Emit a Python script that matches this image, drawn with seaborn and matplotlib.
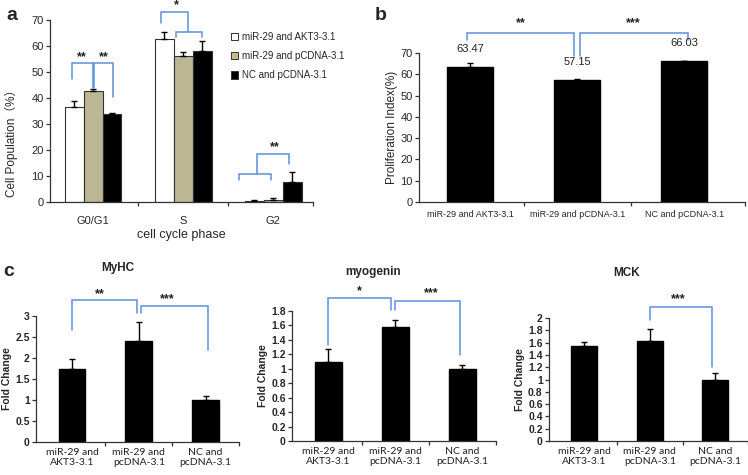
import matplotlib
matplotlib.use("Agg")
import matplotlib.pyplot as plt
import seaborn as sns
import pandas as pd
import numpy as np
from matplotlib.patches import Patch
from matplotlib.ticker import FixedLocator, FuncFormatter

# ---------------- data ----------------
phases = ["G0/G1", "S", "G2"]
groups_a = ["miR-29 and AKT3-3.1", "miR-29 and pCDNA-3.1", "NC and pCDNA-3.1"]
a_akt3 = [36.5, 62.8, 0.5]
a_pcdna = [42.8, 56.0, 0.7]
a_nc = [33.7, 58.0, 7.7]
a_akt3_err = [2.3, 2.5, 0.4]
a_pcdna_err = [0.8, 1.8, 1.0]
a_nc_err = [0.7, 3.8, 3.8]

b_groups = ["miR-29 and AKT3-3.1", "miR-29 and pCDNA-3.1", "NC and pCDNA-3.1"]
b_values = [63.47, 57.15, 66.03]
b_err = [2.0, 0.8, 0.4]

c_groups = ["miR-29 and\nAKT3-3.1", "miR-29 and\npcDNA-3.1", "NC and\npcDNA-3.1"]
myhc = [1.75, 2.40, 1.00]
myhc_err = [0.22, 0.45, 0.10]
myogenin = [1.10, 1.58, 1.00]
myogenin_err = [0.18, 0.09, 0.05]
mck = [1.54, 1.62, 1.00]
mck_err = [0.07, 0.20, 0.10]

# ---------------- style ----------------
sns.set_theme(style="ticks")
plt.rcParams["font.family"] = ["Liberation Sans", "Noto Sans CJK SC", "DejaVu Sans"]
plt.rcParams["axes.linewidth"] = 0.9

W, H = 748, 475
fig = plt.figure(figsize=(W / 100, H / 100), dpi=100)
TAN = "#c3ba8e"
BLUE = "#5d8fdb"


def px_axes(l, t, r, b):
    return fig.add_axes([l / W, 1 - b / H, (r - l) / W, (b - t) / H])


def bracket(ax, x1, x2, top, yl, yr):
    ax.plot([x1, x1, x2, x2], [yl, top, top, yr], color=BLUE, lw=1.1,
            clip_on=False, solid_joinstyle="miter")


def stars(ax, x, y, s, size=9):
    ax.text(x, y, s, ha="center", va="center", fontsize=size,
            fontweight="bold", color="#222222", clip_on=False)


def add_err(ax, container, errs):
    for bar, e in zip(container, errs):
        x = bar.get_x() + bar.get_width() / 2
        ax.errorbar(x, bar.get_height(), yerr=[[0], [e]], fmt="none",
                    ecolor="black", elinewidth=1.0, capsize=2.2, capthick=1.0)


def style_axes(ax, xlim, ends):
    sns.despine(ax=ax)
    ax.set_xlim(*xlim)
    ax.tick_params(axis="x", which="major", length=0)
    ax.xaxis.set_minor_locator(FixedLocator(ends))
    ax.tick_params(axis="x", which="minor", length=3, width=0.9,
                   direction="out", color="#333333")
    ax.tick_params(axis="y", length=3, width=0.9, direction="out",
                   color="#333333", pad=1.5)
    for sp in ax.spines.values():
        sp.set_color("#333333")


# ---------------- panel a ----------------
ax_a = px_axes(50, 20, 313, 202)
df_a = pd.DataFrame({
    "phase": phases * 3,
    "group": [g for g in groups_a for _ in phases],
    "value": a_akt3 + a_pcdna + a_nc,
})
sns.barplot(data=df_a, x="phase", y="value", hue="group", order=phases,
            hue_order=groups_a, palette=["white", TAN, "black"], width=0.63,
            errorbar=None, edgecolor="#333333", linewidth=0.8, legend=False,
            ax=ax_a)
for cont, errs in zip(ax_a.containers, [a_akt3_err, a_pcdna_err, a_nc_err]):
    add_err(ax_a, cont, errs)
ax_a.set_ylim(0, 70)
ax_a.set_yticks(np.arange(0, 71, 10))
style_axes(ax_a, (-0.478, 2.44), [0.5, 1.5, 2.44])
ax_a.tick_params(axis="both", labelsize=8)
ax_a.tick_params(axis="x", pad=10)
ax_a.set_xlabel("cell cycle phase", fontsize=9, labelpad=2)
ax_a.set_ylabel("Cell Population（%）", fontsize=8.5)
ax_a.yaxis.set_label_coords(-0.12, 0.34)
# brackets a
bracket(ax_a, -0.233, 0.0, 53.4, 47.2, 43.7)
bracket(ax_a, 0.011, 0.222, 53.4, 43.7, 40.2)
stars(ax_a, -0.12, 55.8, "**")
stars(ax_a, 0.12, 55.8, "**")
bracket(ax_a, 0.756, 1.056, 73.1, 68.8, 65.4)
bracket(ax_a, 0.922, 1.211, 65.4, 63.4, 63.4)
stars(ax_a, 0.92, 75.8, "*")
bracket(ax_a, 1.622, 1.978, 10.8, 8.5, 8.5)
bracket(ax_a, 1.822, 2.178, 18.6, 10.8, 14.7)
stars(ax_a, 2.02, 21.0, "**")
handles = [Patch(facecolor=c, edgecolor="#333333", linewidth=0.7)
           for c in ["white", TAN, "black"]]
ax_a.legend(handles, groups_a, loc="upper left",
            bbox_to_anchor=(226 / W, 1 - 27 / H), bbox_transform=fig.transFigure,
            frameon=False, fontsize=7, handlelength=0.75, handleheight=0.75,
            handletextpad=0.35, labelspacing=0.95, borderpad=0)

# ---------------- panel b ----------------
ax_b = px_axes(419, 53, 745, 202)
df_b = pd.DataFrame({"group": b_groups, "value": b_values})
sns.barplot(data=df_b, x="group", y="value", order=b_groups, color="black",
            width=0.43, errorbar=None, edgecolor="black", ax=ax_b)
add_err(ax_b, ax_b.containers[0], b_err)
for bar, v in zip(ax_b.containers[0], b_values):
    ax_b.text(bar.get_x() + bar.get_width() / 2, v + 8.5, f"{v:.2f}",
              ha="center", va="center", fontsize=8, color="#222222",
              clip_on=False)
ax_b.set_ylim(0, 70)
ax_b.set_yticks(np.arange(0, 71, 10))
style_axes(ax_b, (-0.48, 2.57), [0.5, 1.5, 2.57])
ax_b.tick_params(axis="y", labelsize=8)
ax_b.tick_params(axis="x", labelsize=6.5, pad=6)
ax_b.set_xlabel("")
ax_b.set_ylabel("Proliferation Index(%)", fontsize=8.5, labelpad=2)
bracket(ax_b, -0.03, 0.97, 79.5, 76.2, 68.6)
bracket(ax_b, 1.03, 2.04, 79.5, 68.6, 76.2)
stars(ax_b, 0.47, 84.2, "**")
stars(ax_b, 1.52, 84.2, "***")

# ---------------- panel c ----------------
fmt = FuncFormatter(lambda v, p: f"{round(v, 2):g}")


def panel_c(box, vals, errs, title, ymax, step, title_xy):
    ax = px_axes(*box)
    df = pd.DataFrame({"group": c_groups, "value": vals})
    sns.barplot(data=df, x="group", y="value", order=c_groups, color="black",
                width=0.4, errorbar=None, edgecolor="black", ax=ax)
    add_err(ax, ax.containers[0], errs)
    ax.set_ylim(0, ymax)
    ax.set_yticks(np.arange(0, ymax + 1e-9, step))
    ax.yaxis.set_major_formatter(fmt)
    style_axes(ax, (-0.54, 2.5), [0.5, 1.5, 2.5])
    ax.tick_params(axis="x", labelsize=7.5, pad=4)
    for lab in ax.get_xticklabels():
        lab.set_fontfamily(["Lato", "DejaVu Sans"])
        lab.set_color("#222222")
    ax.tick_params(axis="y", labelsize=7.5)
    for lab in ax.get_yticklabels():
        lab.set_fontweight("bold")
    ax.set_xlabel("")
    ax.set_ylabel("Fold Change", fontsize=7.5, fontweight="bold", labelpad=2)
    fig.text(title_xy[0] / W, 1 - title_xy[1] / H, title, ha="center",
             va="center", fontsize=8.5, fontweight="bold")
    return ax


ax_c1 = panel_c((36, 316, 239, 442), myhc, myhc_err, "MyHC", 3, 0.5, (118, 268))
bracket(ax_c1, 0.0, 0.97, 3.38, 2.67, 3.07)
bracket(ax_c1, 1.03, 2.04, 3.24, 3.07, 2.19)
stars(ax_c1, 0.42, 3.53, "**")
stars(ax_c1, 1.42, 3.41, "***")

ax_c2 = panel_c((292, 311, 496, 441), myogenin, myogenin_err, "myogenin", 1.8,
                0.2, (373, 272))
bracket(ax_c2, 0.0, 0.93, 1.98, 1.33, 1.81)
bracket(ax_c2, 1.0, 1.96, 1.94, 1.81, 1.19)
stars(ax_c2, 0.46, 2.08, "*")
stars(ax_c2, 1.54, 2.04, "***")

ax_c3 = panel_c((549, 318, 748, 441), mck, mck_err, "MCK", 2, 0.2, (627, 273))
bracket(ax_c3, 1.0, 1.95, 2.18, 1.97, 1.2)
stars(ax_c3, 1.44, 2.31, "***")

# panel letters
for s, x, y in [("a", 12, 15), ("b", 381, 15), ("c", 9, 271)]:
    fig.text(x / W, 1 - y / H, s, ha="center", va="center", fontsize=14,
             fontweight="bold")

fig.savefig("out.png", dpi=100)
